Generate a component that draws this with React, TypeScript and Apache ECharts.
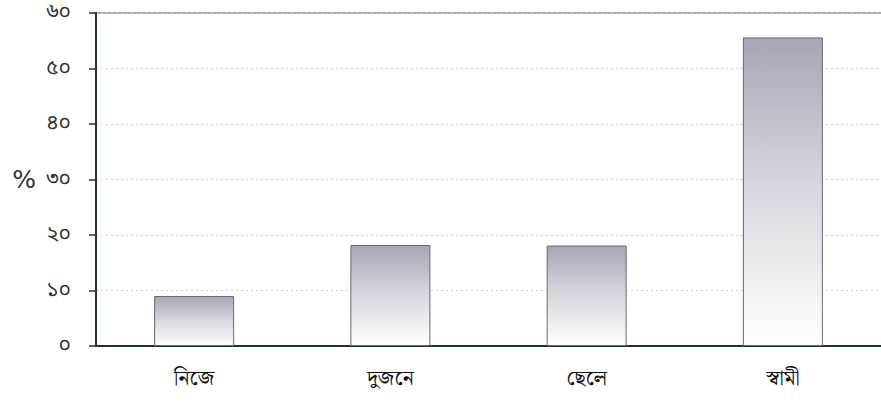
import React, { useEffect, useRef } from "react";
import * as echarts from "echarts";

const categories = ["নিজে", "দুজনে", "ছেলে", "স্বামী"];
const values = [9, 18.2, 18.1, 55.6];
const yTickLabels = ["০", "১০", "২০", "৩০", "৪০", "৫০", "৬০"];
const yAxisName = "%";

export default function App() {
  const ref = useRef<HTMLDivElement>(null);
  useEffect(() => {
    if (!ref.current) return;
    const chart = echarts.init(ref.current, undefined, { renderer: "svg" });
    const axisColor = "#1e3535";
    chart.setOption({
      animation: false,
      backgroundColor: "#ffffff",
      grid: { left: 96, right: -4, top: 13, bottom: 63 },
      xAxis: {
        type: "category",
        data: categories,
        axisLine: { lineStyle: { color: axisColor, width: 2 } },
        axisTick: { show: false },
        axisLabel: {
          color: "#111",
          fontSize: 21,
          margin: 22,
          fontFamily: "'Noto Serif Bengali', 'Noto Sans Bengali', 'Lohit Bengali', serif",
        },
      },
      yAxis: {
        type: "value",
        min: 0,
        max: 60,
        interval: 10,
        name: yAxisName,
        nameLocation: "middle",
        nameRotate: 0,
        nameGap: 60,
        nameTextStyle: { fontSize: 25, color: "#333", fontFamily: "'DejaVu Sans', sans-serif" },
        axisLine: { show: true, lineStyle: { color: axisColor, width: 2 } },
        axisTick: { show: true, length: 7, lineStyle: { color: axisColor, width: 1.5 } },
        axisLabel: {
          color: "#333",
          fontSize: 21,
          lineHeight: 18,
          margin: 25,
          fontFamily: "'Noto Sans Bengali', 'Lohit Bengali', serif",
          formatter: (v: number) => yTickLabels[Math.round(v / 10)] ?? String(v),
        },
        splitLine: {
          show: true,
          lineStyle: { color: "#cfcfcf", type: [2, 3], width: 1 },
        },
      },
      series: [
        {
          type: "bar",
          data: values,
          barWidth: 80,
          itemStyle: {
            borderColor: "#5f6e6e",
            borderWidth: 1,
            color: new echarts.graphic.LinearGradient(0, 0, 0, 1, [
              { offset: 0, color: "#a6a7b5" },
              { offset: 0.5, color: "#d8d8e0" },
              { offset: 1, color: "#ffffff" },
            ]),
          },
        },
      ],
      graphic: [
        {
          type: "line",
          shape: { x1: 96, y1: 13, x2: 881, y2: 13 },
          style: { stroke: "#556", lineWidth: 1 },
        },
      ],
    });
    return () => chart.dispose();
  }, []);
  return (
    <div
      ref={ref}
      style={{ position: "fixed", left: 0, top: 0, width: 881, height: 409, background: "#fff" }}
    />
  );
}
